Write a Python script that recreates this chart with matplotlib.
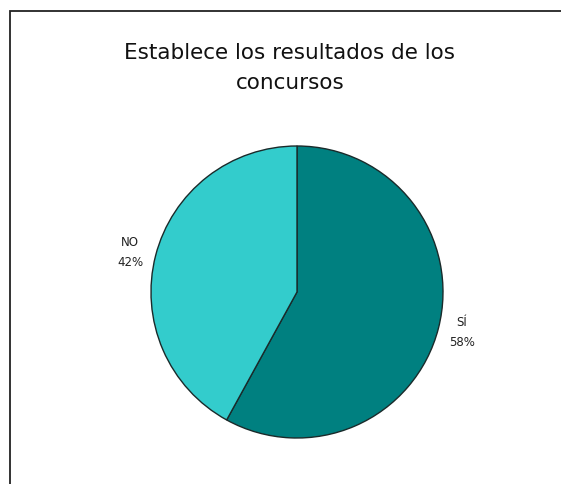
import matplotlib
matplotlib.use("Agg")
import matplotlib.pyplot as plt
from matplotlib.patches import Rectangle

# Survey results
categories = ["SÍ", "NO"]
values = [58, 42]
colors = ["#008080", "#33CCCC"]
title = "Establece los resultados de los\nconcursos"

W, H = 561, 485
fig = plt.figure(figsize=(W / 100, H / 100), dpi=100)
fig.patch.set_facecolor("white")

# Chart area border (runs off the right and bottom edges)
fig.patches.append(Rectangle((10 / W, -0.1), 1.2, (H - 12) / H + 0.1,
                             transform=fig.transFigure, fill=False,
                             edgecolor="#222222", linewidth=1.3))

cx, cy, r = 297, 293, 146
ax = fig.add_axes([(cx - r) / W, (H - cy - r) / H, 2 * r / W, 2 * r / H])
wedges, _ = ax.pie(values, colors=colors, startangle=90, counterclock=False,
                   radius=1.0, wedgeprops=dict(edgecolor="#1a2a2a", linewidth=1.0))
ax.set_xlim(-1, 1)
ax.set_ylim(-1, 1)
ax.set_aspect("equal")
ax.axis("off")

# Slice labels
label_pos = {"SÍ": (462, 332), "NO": (130, 252)}
for cat, val in zip(categories, values):
    x, y = label_pos[cat]
    fig.text(x / W, 1 - y / H, f"{cat}\n{val}%", ha="center", va="center",
             fontsize=8.5, family="DejaVu Sans", color="#222222", linespacing=1.7)

fig.text(290 / W, 1 - 68 / H, title, ha="center", va="center",
         fontsize=15.5, family="DejaVu Sans", fontweight="normal",
         color="#111111", linespacing=1.65)

fig.savefig("out.png", dpi=100)
